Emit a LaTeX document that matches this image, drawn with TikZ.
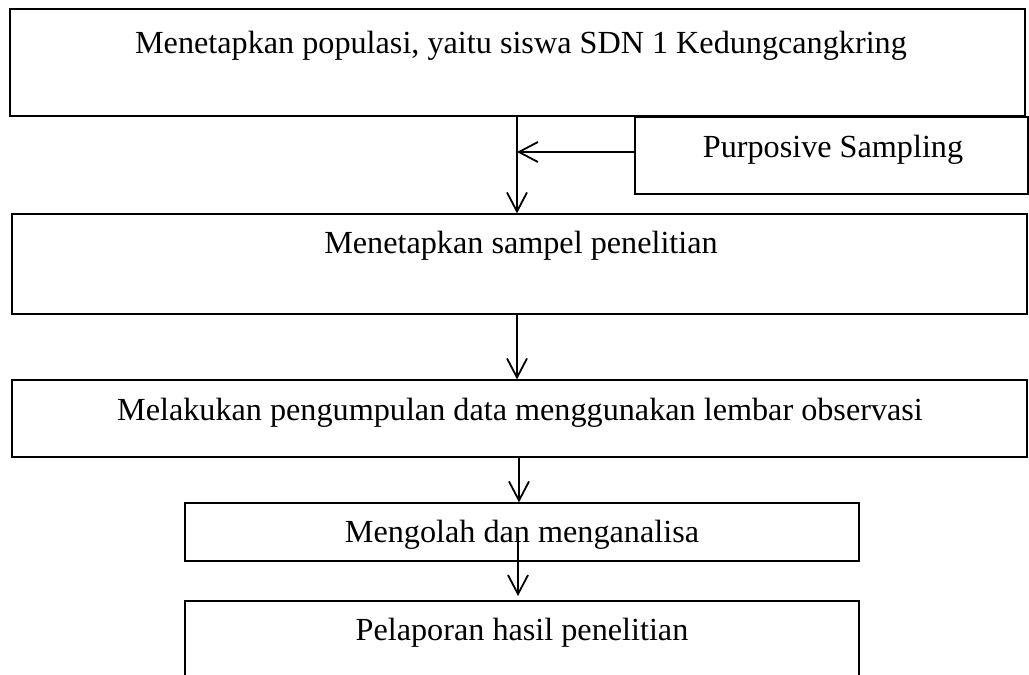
\documentclass[tikz,border=0pt]{standalone}
\usepackage{fontspec}
\setmainfont{Liberation Serif}
\usetikzlibrary{arrows.meta}
\begin{document}
\begin{tikzpicture}[x=0.5pt,y=-0.5pt,
  boxshape/.style={draw, line width=0.6pt, inner sep=0pt},
  lbl/.style={anchor=base, inner sep=0pt, font=\fontsize{16.1}{19}\selectfont},
  flow/.style={line width=0.9pt, -{Straight Barb[length=9.5pt,width=10pt,line width=0.9pt]}}]
\clip (0,0) rectangle (1029,675);
% boxes
\node[boxshape, minimum width=507.5pt, minimum height=53.5pt] (b1) at (517.5,62.5) {};
\node[boxshape, minimum width=196.5pt, minimum height=38.5pt] (ps) at (831.5,155.5) {};
\node[boxshape, minimum width=507.5pt, minimum height=50pt] (b2) at (519.5,264) {};
\node[boxshape, minimum width=507.5pt, minimum height=38.5pt] (b3) at (519.5,418.5) {};
\node[boxshape, minimum width=337pt, minimum height=29pt] (b4) at (522,532) {};
\node[boxshape, minimum width=337pt, minimum height=47pt] (b5) at (522,648) {};
% texts
\node[lbl] (t1) at (521,53) {Menetapkan populasi, yaitu siswa SDN 1 Kedungcangkring};
\node[lbl] (tp) at (833,157) {Purposive Sampling};
\node[lbl] (t2) at (521,253) {Menetapkan sampel penelitian};
\node[lbl] (t3) at (520,420) {Melakukan pengumpulan data menggunakan lembar observasi};
\node[lbl] (t4) at (522,542) {Mengolah dan menganalisa};
\node[lbl] (t5) at (522,640) {Pelaporan hasil penelitian};
% connector points
\coordinate (a1s) at (b1.south -| 517,0);
\coordinate (a1e) at (b2.north -| 517,0);
\coordinate (join) at (517,152);
\coordinate (psw) at (ps.west |- 0,152);
\coordinate (a2s) at (b2.south -| 517,0);
\coordinate (a2e) at (b3.north -| 517,0);
\coordinate (a3s) at (b3.south -| 519,0);
\coordinate (a3e) at (b4.north -| 519,0);
\coordinate (a4s) at (518,529);
\coordinate (a4e) at (518,596);
% connectors
\draw[flow] (a1s) -- (a1e);
\draw[flow] (psw) -- (join);
\draw[flow] (a2s) -- (a2e);
\draw[flow] (a3s) -- (a3e);
\draw[flow] (a4s) -- (a4e);
\end{tikzpicture}
\end{document}
